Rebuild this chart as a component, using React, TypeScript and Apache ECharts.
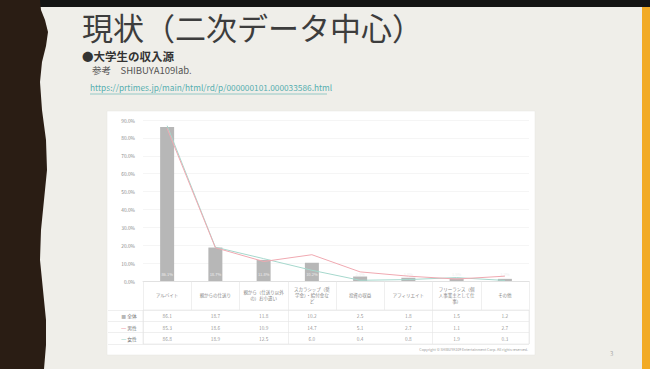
import React, { useEffect, useRef } from "react";
import * as echarts from "echarts";

const categories = [
  "アルバイト",
  "親からの仕送り",
  "親から（仕送り以外\nの）お小遣い",
  "スカラシップ（奨\n学金）・給付金な\nど",
  "投資の収益",
  "アフィリエイト",
  "フリーランス（個\n人事業主として仕\n事）",
  "その他",
];
const totalValues = [86.1, 18.7, 11.8, 10.2, 2.5, 1.8, 1.5, 1.2];
const maleValues = [85.3, 18.6, 10.9, 14.7, 5.1, 2.7, 1.1, 2.7];
const femaleValues = [86.8, 18.9, 12.5, 6.0, 0.4, 0.8, 1.9, 0.3];
const rowLabels = ["全体", "男性", "女性"];
const yTicks = { min: 0, max: 90, interval: 10 };

const FONT = "'Noto Sans CJK JP', 'Noto Sans', sans-serif";
const GRAY = "#b7b7b7";
const PINK = "#f0a9b1";
const TEAL = "#a6d8cd";
const LINE = "#e4e4e4";

export default function App() {
  const ref = useRef<HTMLDivElement>(null);
  useEffect(() => {
    document.body.style.margin = "0";
    const chart = echarts.init(ref.current!, null, { renderer: "svg" });
    const rows = [totalValues, maleValues, femaleValues];
    const tableData: any[] = [];
    rows.forEach((vals, r) => vals.forEach((v, i) => tableData.push({ value: [i, r, v], label: { color: "#777" } })));
    const option: any = {
      animation: false,
      textStyle: { fontFamily: FONT },
      graphic: [
        {
          type: "group",
          z: -10,
          children: [
            { type: "rect", z: -10, shape: { x: 0, y: 0, width: 650, height: 369 }, style: { fill: "#efeee9" } },
            { type: "rect", z: -9, shape: { x: 0, y: 0, width: 650, height: 7 }, style: { fill: "#141414" } },
            {
              type: "polygon",
              z: -9,
              shape: {
                points: [
                  [0, 0], [40, 0], [41, 10], [45, 20], [48, 32], [46, 46], [42, 62], [40, 82],
                  [42, 110], [46, 140], [47, 170], [44, 200], [41, 230], [40, 260], [43, 290],
                  [46, 320], [46, 345], [44, 369], [0, 369],
                ],
              },
              style: { fill: "#2a1d14" },
            },
            { type: "rect", z: -9, shape: { x: 642, y: 7, width: 8, height: 362 }, style: { fill: "#f2aa25" } },
            {
              type: "rect",
              z: -9,
              shape: { x: 107, y: 111, width: 428, height: 244 },
              style: { fill: "#ffffff", stroke: "#e6e6e2", lineWidth: 0.5 },
            },
          ],
        },
        { type: "text", x: 82, y: 11, style: { text: "現状（二次データ中心）", fontSize: 31, fill: "#3d3d3d", fontFamily: FONT } },
        { type: "text", x: 82, y: 50, style: { text: "●大学生の収入源", fontSize: 11.5, fontWeight: "bold", fill: "#333", fontFamily: FONT } },
        { type: "text", x: 92, y: 65, style: { text: "参考　SHIBUYA109lab.", fontSize: 9.5, fill: "#555", fontFamily: FONT } },
        {
          type: "text",
          x: 90,
          y: 83,
          style: { text: "https://prtimes.jp/main/html/rd/p/000000101.000033586.html", fontSize: 8.3, fill: "#57aeb0", fontFamily: FONT },
        },
        { type: "line", shape: { x1: 90, y1: 94, x2: 327, y2: 94 }, style: { stroke: "#57aeb0", lineWidth: 0.6 } },
        {
          type: "text",
          x: 528,
          y: 348,
          style: { text: "Copyright © SHIBUYA109 Entertainment Corp. All rights reserved.", fontSize: 3.6, fill: "#999", align: "right", fontFamily: FONT },
        },
        { type: "text", x: 610, y: 350, style: { text: "3", fontSize: 6, fill: "#aaa", fontFamily: FONT } },
      ],
      grid: [
        { left: 143, right: 121, top: 120, bottom: 88 },
        { left: 143, right: 121, top: 310, height: 34, show: true, borderColor: LINE, borderWidth: 0.6 },
      ],
      xAxis: [
        {
          type: "category",
          gridIndex: 0,
          data: categories,
          axisLine: { lineStyle: { color: "#d4d4d4", width: 0.6 } },
          axisTick: { show: true, length: 29, lineStyle: { color: LINE, width: 0.6 } },
          axisLabel: { interval: 0, fontSize: 4.5, lineHeight: 6, color: "#888", margin: 14, verticalAlign: "middle" },
        },
        {
          type: "category",
          gridIndex: 1,
          data: categories,
          axisLine: { show: false },
          axisTick: { show: false },
          axisLabel: { show: false },
          splitLine: { show: true, lineStyle: { color: LINE, width: 0.6 } },
        },
      ],
      yAxis: [
        {
          type: "value",
          gridIndex: 0,
          min: yTicks.min,
          max: yTicks.max,
          interval: yTicks.interval,
          axisLine: { show: false },
          axisTick: { show: false },
          axisLabel: { fontSize: 4.8, color: "#888", margin: 8, formatter: (v: number) => v.toFixed(1) + "%" },
          splitLine: { lineStyle: { color: "#eeeeee", width: 0.6 } },
        },
        {
          type: "category",
          gridIndex: 1,
          inverse: true,
          data: rowLabels,
          axisLine: { show: false },
          axisTick: { show: true, length: 35, lineStyle: { color: LINE, width: 0.6 } },
          splitLine: { show: true, lineStyle: { color: LINE, width: 0.6 } },
          axisLabel: {
            fontSize: 4.8,
            color: "#777",
            margin: 14,
            align: "center",
            formatter: (v: string, i: number) => ["{a|■}", "{b|━}", "{c|━}"][i] + " " + v,
            rich: { a: { color: GRAY, fontSize: 4.8 }, b: { color: PINK, fontSize: 4.8 }, c: { color: TEAL, fontSize: 4.8 } },
          },
        },
      ],
      series: [
        {
          name: "全体",
          type: "bar",
          xAxisIndex: 0,
          yAxisIndex: 0,
          data: totalValues,
          barWidth: 14,
          itemStyle: { color: GRAY },
          label: { show: true, position: "insideBottom", fontSize: 4, color: "#eeeeee", formatter: "{c}%" },
        },
        {
          name: "女性",
          type: "line",
          xAxisIndex: 0,
          yAxisIndex: 0,
          data: femaleValues,
          symbol: "none",
          lineStyle: { color: TEAL, width: 1 },
          itemStyle: { color: TEAL },
        },
        {
          name: "男性",
          type: "line",
          xAxisIndex: 0,
          yAxisIndex: 0,
          data: maleValues,
          symbol: "none",
          lineStyle: { color: PINK, width: 1 },
          itemStyle: { color: PINK },
        },
        {
          type: "scatter",
          xAxisIndex: 1,
          yAxisIndex: 1,
          data: tableData,
          silent: true,
          symbol: "rect",
          symbolSize: 1,
          itemStyle: { color: "rgba(255,255,255,0)" },
          label: {
            show: true,
            position: "inside",
            fontSize: 4.8,
            color: "#777",
            formatter: (p: any) => p.value[2].toFixed(1),
          },
        },
      ],
    };
    chart.setOption(option);
    return () => chart.dispose();
  }, []);
  return <div ref={ref} style={{ width: 650, height: 369 }} />;
}
